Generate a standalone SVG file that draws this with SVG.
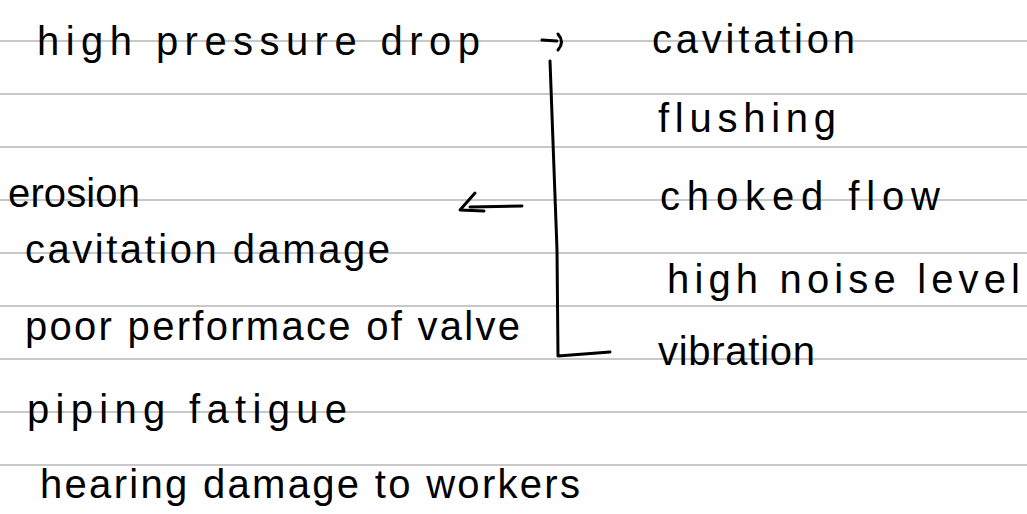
<svg xmlns="http://www.w3.org/2000/svg" width="1027" height="514" viewBox="0 0 1027 514">
<style>
.rule{stroke:#c8c8c8;stroke-width:2}
.t{font-family:"Liberation Sans","Noto Sans",sans-serif;font-size:40px;fill:#000}
.ink{fill:none;stroke:#000;stroke-width:3;stroke-linecap:round;stroke-linejoin:round}
</style>
<rect width="1027" height="514" fill="#fff"/>
<g id="paper">
<line class="rule" x1="0" y1="41" x2="1027" y2="41"/>
<line class="rule" x1="0" y1="94" x2="1027" y2="94"/>
<line class="rule" x1="0" y1="147" x2="1027" y2="147"/>
<line class="rule" x1="0" y1="200" x2="1027" y2="200"/>
<line class="rule" x1="0" y1="253" x2="1027" y2="253"/>
<line class="rule" x1="0" y1="306" x2="1027" y2="306"/>
<line class="rule" x1="0" y1="359" x2="1027" y2="359"/>
<line class="rule" x1="0" y1="412" x2="1027" y2="412"/>
<line class="rule" x1="0" y1="465" x2="1027" y2="465"/>
</g>
<g id="source"><text class="t" x="37" y="55" textLength="443">high   pressure   drop</text></g>
<g id="cavitation"><text class="t" x="652" y="53" textLength="203">cavitation</text></g>
<g id="flushing"><text class="t" x="658" y="132" textLength="178">flushing</text></g>
<g id="choked-flow"><text class="t" x="660" y="210" textLength="280">choked  flow</text></g>
<g id="noise"><text class="t" x="667" y="293" textLength="353">high  noise  level</text></g>
<g id="vibration"><text class="t" x="658" y="365" textLength="157">vibration</text></g>
<g id="erosion"><text class="t" x="8" y="207" textLength="132">erosion</text></g>
<g id="cav-damage"><text class="t" x="25" y="263" textLength="365">cavitation damage</text></g>
<g id="performance"><text class="t" x="25" y="340" textLength="495">poor performace of valve</text></g>
<g id="fatigue"><text class="t" x="27" y="423" textLength="320">piping  fatigue</text></g>
<g id="hearing"><text class="t" x="40" y="498" textLength="540">hearing  damage to workers</text></g>
<g id="connectors">
<path class="ink" d="M542 40 L557 41 M558 34 Q565 42 558 50"/>
<path class="ink" d="M550 61 Q553 150 557 250 L558 356 L610 352"/>
<path class="ink" d="M470 207 L522 206"/>
<path class="ink" d="M475 193 L460 210 L484 211"/>
</g>
</svg>
